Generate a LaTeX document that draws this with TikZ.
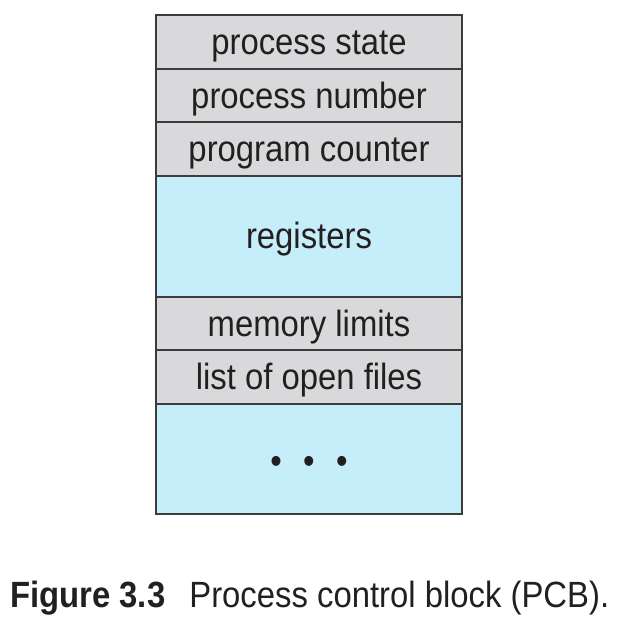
\documentclass[tikz,border=0pt]{standalone}
\usepackage{fontspec}
\setmainfont[FakeStretch=0.9]{Liberation Sans}
\usetikzlibrary{positioning}

\definecolor{pcbgray}{HTML}{D9D9DB}
\definecolor{pcbblue}{HTML}{C6EEFA}
\definecolor{pcbline}{HTML}{3C3C3C}
\definecolor{pcbtext}{HTML}{231F20}

\tikzset{
    field/.style={draw=pcbline, line width=2pt, fill=pcbgray, text=pcbtext,
        minimum width=306pt, minimum height=53.5pt, inner sep=0pt, outer sep=0pt,
        text height=30.4pt, text depth=5.4pt,
        font=\fontsize{36.5}{40}\selectfont},
    bigfield/.style={field, fill=pcbblue},
}

\begin{document}
\begin{tikzpicture}[x=1pt, y=-1pt]
        \useasboundingbox (0,0) rectangle (624,620);

        \node[field, anchor=north] (state) at (309,15.5) {process state};
        \node[field, below=0pt of state] (number) {process number};
        \node[field, below=0pt of number] (counter) {program counter};
        \node[bigfield, minimum height=121pt, below=0pt of counter] (regs) {registers};
        \node[field, below=0pt of regs] (memory) {memory limits};
        \node[field, below=0pt of memory] (files) {list of open files};
        \node[bigfield, minimum height=110pt, below=0pt of files] (more)
            {\raisebox{-2pt}{\textbullet\hspace{21.5pt}\textbullet\hspace{21.5pt}\textbullet}};

        \node[anchor=base west, inner sep=0pt, text=pcbtext, font=\fontsize{36.5}{40}\selectfont]
            (caption) at (10,607) {\textbf{Figure 3.3}\hspace{24pt}Process control block (PCB).};
\end{tikzpicture}
\end{document}
